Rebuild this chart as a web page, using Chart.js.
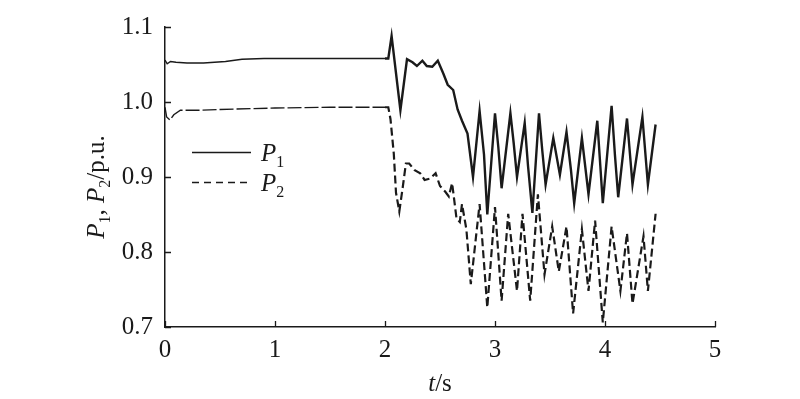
<!DOCTYPE html>
<html>
<head>
<meta charset="utf-8">
<script src="https://cdn.jsdelivr.net/npm/chart.js@4.4.1/dist/chart.umd.min.js"></script>
<style>
  body { margin: 0; background: #fff; }
  #wrap { width: 800px; height: 399px; }
</style>
</head>
<body>
<div id="wrap"><canvas id="powerChart" width="800" height="399"></canvas></div>
<script>
// P1 (solid) time points and values
const t1 = [0, 0.02, 0.05, 0.1, 0.2, 0.35, 0.55, 0.7, 0.9, 1.2, 1.5, 1.8, 2.0, 2.03,
    2.06, 2.14, 2.2, 2.25, 2.29, 2.34, 2.38, 2.43, 2.48, 2.53, 2.57, 2.62, 2.66, 2.70, 2.75,
    2.80, 2.86, 2.90, 2.93, 3.00, 3.03, 3.06, 3.14, 3.17, 3.20, 3.27, 3.30, 3.34, 3.40, 3.43,
    3.46, 3.53, 3.59, 3.65, 3.69, 3.72, 3.79, 3.85, 3.93, 3.98, 4.06, 4.09, 4.12, 4.20,
    4.25, 4.34, 4.39, 4.46];
const p1 = [1.056, 1.051, 1.054, 1.053, 1.052, 1.052, 1.054, 1.057, 1.058, 1.058, 1.058, 1.058, 1.058, 1.058,
    1.088, 0.989, 1.057, 1.053, 1.048, 1.055, 1.048, 1.047, 1.055, 1.038, 1.023, 1.016, 0.990, 0.975, 0.958,
    0.900, 0.988, 0.930, 0.850, 0.985, 0.940, 0.885, 0.985, 0.945, 0.900, 0.972, 0.915, 0.852, 0.985, 0.935,
    0.890, 0.952, 0.903, 0.960, 0.910, 0.865, 0.952, 0.877, 0.975, 0.865, 0.995, 0.930, 0.873, 0.978,
    0.890, 0.980, 0.890, 0.970];

// P2 (dashed) time points and values
const t2 = [0, 0.015, 0.045, 0.08, 0.14, 0.3, 0.5, 1.0, 1.5, 2.0, 2.03,
    2.05, 2.08, 2.10, 2.13, 2.16, 2.19, 2.22, 2.27, 2.32, 2.36, 2.41, 2.46, 2.50, 2.55, 2.58, 2.61, 2.65,
    2.68, 2.70, 2.74, 2.78, 2.86, 2.93, 3.00, 3.06, 3.12, 3.20, 3.25, 3.32, 3.39, 3.45, 3.52,
    3.58, 3.65, 3.71, 3.79, 3.85, 3.91, 3.98, 4.06, 4.14, 4.20, 4.25, 4.35, 4.39, 4.46];
const p2 = [0.993, 0.980, 0.976, 0.983, 0.989, 0.989, 0.990, 0.992, 0.993, 0.993, 0.993,
    0.977, 0.931, 0.879, 0.854, 0.885, 0.918, 0.918, 0.909, 0.905, 0.896, 0.898, 0.905, 0.888, 0.880, 0.874, 0.892, 0.845,
    0.840, 0.864, 0.830, 0.757, 0.864, 0.726, 0.860, 0.735, 0.851, 0.748, 0.851, 0.735, 0.877, 0.770, 0.834,
    0.774, 0.834, 0.718, 0.830, 0.748, 0.842, 0.706, 0.834, 0.748, 0.825, 0.731, 0.821, 0.748, 0.851];

const xTicks = [0, 1, 2, 3, 4, 5];
const yTicks = [0.7, 0.8, 0.9, 1.0, 1.1];

const serif = '"Liberation Serif", "Times New Roman", Times, serif';
const ink = '#1a1a1a';

function toPoints(ts, vs) {
    return ts.map((t, i) => ({ x: t, y: vs[i] }));
}

// draws a run of text pieces (italic / subscript) starting at x, baseline y
function drawPieces(ctx, pieces, x, y, size) {
    let cx = x;
    pieces.forEach(p => {
        const fs = p.sub ? Math.round(size * 0.62) : size;
        ctx.font = (p.italic ? 'italic ' : '') + fs + 'px ' + serif;
        ctx.fillText(p.text, cx, y + (p.sub ? size * 0.22 : 0));
        cx += ctx.measureText(p.text).width;
    });
    return cx - x;
}

function piecesWidth(ctx, pieces, size) {
    let w = 0;
    pieces.forEach(p => {
        const fs = p.sub ? Math.round(size * 0.62) : size;
        ctx.font = (p.italic ? 'italic ' : '') + fs + 'px ' + serif;
        w += ctx.measureText(p.text).width;
    });
    return w;
}

// inward tick marks, axis titles and the in-plot legend
const decorations = {
    id: 'decorations',
    afterDraw(chart) {
        const ctx = chart.ctx;
        const xs = chart.scales.x;
        const ys = chart.scales.y;
        const area = chart.chartArea;
        ctx.save();
        ctx.strokeStyle = ink;
        ctx.lineWidth = 1.3;
        ctx.beginPath();
        xTicks.forEach(v => {
            const px = Math.round(xs.getPixelForValue(v)) + 0.5;
            ctx.moveTo(px, area.bottom);
            ctx.lineTo(px, area.bottom - 6);
        });
        yTicks.forEach(v => {
            const py = Math.round(ys.getPixelForValue(v)) + 0.5;
            ctx.moveTo(area.left, py);
            ctx.lineTo(area.left + 6, py);
        });
        ctx.stroke();

        ctx.fillStyle = ink;
        ctx.textBaseline = 'alphabetic';
        ctx.textAlign = 'left';

        // x title
        const xTitle = [{ text: 't', italic: true }, { text: '/s' }];
        const xw = piecesWidth(ctx, xTitle, 25);
        drawPieces(ctx, xTitle, (area.left + area.right) / 2 - xw / 2, 391, 25);

        // y title, rotated
        const yTitle = [{ text: 'P', italic: true }, { text: '1', sub: true }, { text: ', ' },
            { text: 'P', italic: true }, { text: '2', sub: true }, { text: '/p.u.' }];
        const yw = piecesWidth(ctx, yTitle, 25);
        ctx.save();
        ctx.translate(104, 187);
        ctx.rotate(-Math.PI / 2);
        drawPieces(ctx, yTitle, -yw / 2, 0, 25);
        ctx.restore();

        // legend
        const rows = [{ y: 152, label: '1', dash: [] }, { y: 182, label: '2', dash: [7, 5] }];
        rows.forEach(r => {
            ctx.save();
            ctx.lineWidth = 1.3;
            ctx.setLineDash(r.dash);
            ctx.beginPath();
            ctx.moveTo(192, r.y + 0.5);
            ctx.lineTo(251, r.y + 0.5);
            ctx.stroke();
            ctx.restore();
            drawPieces(ctx, [{ text: 'P', italic: true }, { text: r.label, sub: true }], 261, r.y + 9, 25);
        });
        ctx.restore();
    }
};

const ctx = document.getElementById('powerChart').getContext('2d');
new Chart(ctx, {
    type: 'line',
    data: {
        datasets: [{
            label: 'P1',
            data: toPoints(t1, p1),
            borderColor: ink,
            borderWidth: 1.4,
            pointRadius: 0,
            fill: false,
            tension: 0,
            segment: {
                borderWidth: c => c.p0.parsed.x >= 2.0 ? 2.4 : 1.4
            }
        }, {
            label: 'P2',
            data: toPoints(t2, p2),
            borderColor: ink,
            borderWidth: 1.4,
            borderDash: [14, 3],
            pointRadius: 0,
            fill: false,
            tension: 0,
            segment: {
                borderWidth: c => c.p0.parsed.x >= 2.0 ? 2.2 : 1.4,
                borderDash: c => c.p0.parsed.x >= 2.0 ? [8, 4] : [14, 3]
            }
        }]
    },
    options: {
        responsive: false,
        animation: false,
        layout: {
            padding: { left: 0, top: 17, right: 85, bottom: 0 }
        },
        scales: {
            x: {
                type: 'linear',
                min: 0,
                max: 5,
                grid: { display: false, drawTicks: false },
                border: { display: true, color: ink, width: 1.5 },
                ticks: {
                    stepSize: 1,
                    padding: 8,
                    color: ink,
                    maxRotation: 0,
                    font: { family: serif, size: 25 },
                    callback: v => v
                },
                afterFit: scale => { scale.height = 72; }
            },
            y: {
                min: 0.7,
                max: 1.1,
                grid: { display: false, drawTicks: false },
                border: { display: true, color: ink, width: 1.5 },
                ticks: {
                    stepSize: 0.1,
                    padding: 12,
                    color: ink,
                    font: { family: serif, size: 25 },
                    callback: v => Number(v).toFixed(1)
                },
                afterFit: scale => { scale.width = 165; }
            }
        },
        plugins: {
            legend: { display: false },
            tooltip: { enabled: false }
        }
    },
    plugins: [decorations]
});
</script>
</body>
</html>
